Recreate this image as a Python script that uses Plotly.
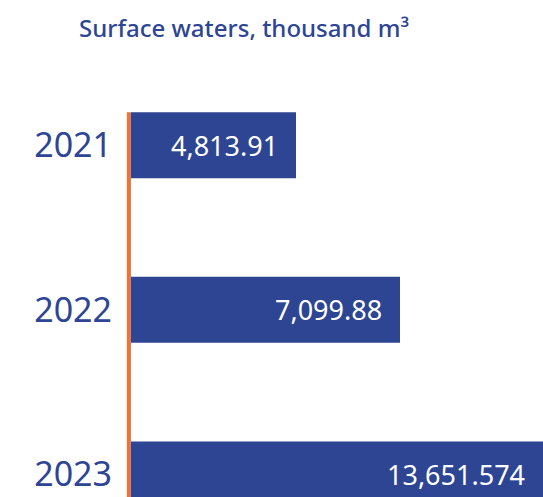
import plotly.graph_objects as go

# Annual surface water volumes, thousand m³
years = ["2021", "2022", "2023"]
volumes = [4813.91, 7099.88, 13651.574]
value_labels = ["4,813.91", "7,099.88", "13,651.574"]

NAVY = "#2d4592"
ORANGE = "#ee7430"
FONT = "Noto Sans"

x_range = [1187, 10243]

fig = go.Figure()
fig.add_trace(go.Bar(
    y=years,
    x=volumes,
    base=0,
    orientation="h",
    width=0.4,
    marker=dict(color=NAVY, line=dict(width=0)),
    hoverinfo="skip",
))

# Value labels sit just inside the visible end of each bar
for i, (v, lab) in enumerate(zip(volumes, value_labels)):
    fig.add_annotation(
        x=min(v, x_range[1]), y=i, xref="x", yref="y",
        text=lab, showarrow=False, xanchor="right", yanchor="middle",
        xshift=-16,
        font=dict(family=FONT, size=27, color="white"),
    )

# Orange baseline running from the first bar down to the bottom edge
fig.add_shape(
    type="line", xref="paper", yref="y",
    x0=-0.005, x1=-0.005, y0=-0.2, y1=2.14,
    line=dict(color=ORANGE, width=4),
    layer="above",
)

fig.update_layout(
    width=543, height=497,
    margin=dict(l=131, r=0, t=63, b=0),
    paper_bgcolor="white", plot_bgcolor="white",
    showlegend=False,
    title=dict(
        text="Surface waters, thousand m³",
        x=79 / 543, xanchor="left", y=1 - 29 / 497, yanchor="middle",
        font=dict(family=FONT, size=24, weight=500, color=NAVY),
    ),
    xaxis=dict(range=x_range, visible=False, fixedrange=True),
    yaxis=dict(
        type="category", categoryorder="array", categoryarray=years,
        range=[2.138, -0.5],
        showgrid=False, zeroline=False, showline=False,
        ticks="", ticklabelstandoff=18,
        tickfont=dict(family=FONT, size=34, color=NAVY),
        fixedrange=True,
    ),
)

fig.write_html("out.html")
